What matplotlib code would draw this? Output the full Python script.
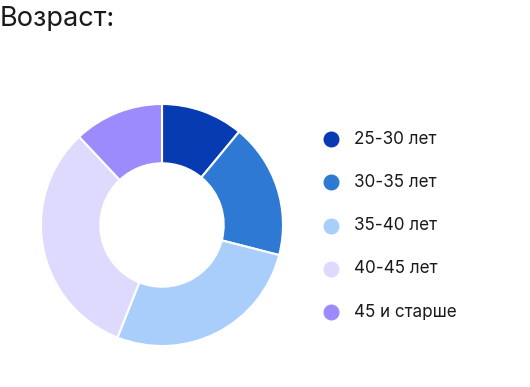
import matplotlib
matplotlib.use("Agg")
import matplotlib.pyplot as plt
from matplotlib.lines import Line2D

plt.rcParams['font.family'] = ['Inter', 'DejaVu Sans']

title = "Возраст:"
categories = ["25-30 лет", "30-35 лет", "35-40 лет", "40-45 лет", "45 и старше"]
shares = [11, 18, 27, 32, 12]
colors = ["#063BB1", "#2E79D3", "#A9CEFC", "#DEDAFE", "#9B8BFD"]

W, H = 530, 387
fig = plt.figure(figsize=(W / 100, H / 100), dpi=100)

# donut
cx, cy, r = 162, 225, 121
ax = fig.add_axes([(cx - r) / W, (H - cy - r) / H, 2 * r / W, 2 * r / H])
ax.pie(shares, colors=colors, startangle=90, counterclock=False, radius=1,
       wedgeprops=dict(width=0.49, edgecolor="white", linewidth=1.5))
ax.set_xlim(-1, 1)
ax.set_ylim(-1, 1)
ax.set_aspect("equal")
ax.axis("off")

fig.text(0 / W, 1 - 19 / H, title, fontsize=19.5, color="#1a1a1a",
         ha="left", va="center")

# legend
y0, step = 139, 43.3
for i, (lab, col) in enumerate(zip(categories, colors)):
    y = 1 - (y0 + i * step) / H
    fig.add_artist(Line2D([331 / W], [y], marker="o", markersize=10.5,
                          markerfacecolor=col, markeredgecolor=col,
                          transform=fig.transFigure))
    fig.text(354 / W, y, lab, fontsize=12.3, color="#1a1a1a",
             ha="left", va="center")

fig.savefig("out.png", dpi=100)
